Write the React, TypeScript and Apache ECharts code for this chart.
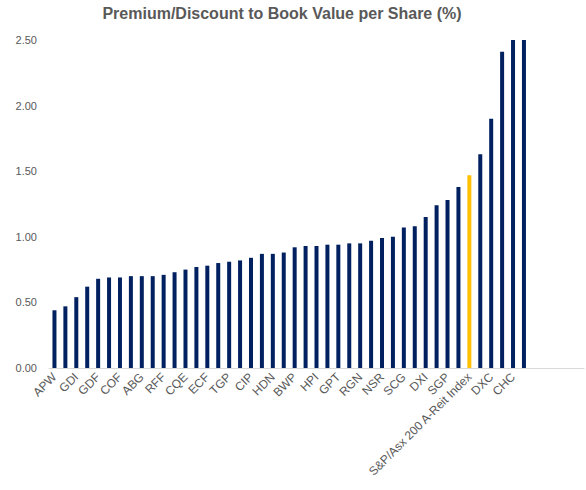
import React, { useEffect, useRef } from "react";
import * as echarts from "echarts";

const categories = [
  "APW", "A2", "GDI", "A4", "GDF", "A6", "COF", "A8", "ABG", "A10",
  "RFF", "A12", "CQE", "A14", "ECF", "A16", "TGP", "A18", "CIP", "A20",
  "HDN", "A22", "BWP", "A24", "HPI", "A26", "GPT", "A28", "RGN", "A30",
  "NSR", "A32", "SCG", "A34", "DXI", "A36", "SGP", "A38",
  "S&P/Asx 200 A-Reit Index", "A40", "DXC", "A42", "CHC", "A44",
  "", "", "", "", ""
];

const values = [
  0.44, 0.47, 0.54, 0.62, 0.68, 0.69, 0.69, 0.70, 0.70, 0.70,
  0.71, 0.73, 0.75, 0.77, 0.78, 0.80, 0.81, 0.82, 0.84, 0.87,
  0.87, 0.88, 0.92, 0.93, 0.93, 0.94, 0.94, 0.95, 0.95, 0.97,
  0.99, 1.00, 1.07, 1.08, 1.15, 1.24, 1.28, 1.38, 1.47, 1.63,
  1.90, 2.41, 2.80, 3.10, null, null, null, null, null
];

const highlightIndex = 38;
const yTicks = [0, 0.5, 1.0, 1.5, 2.0, 2.5];

export default function App() {
  const ref = useRef<HTMLDivElement>(null);
  useEffect(() => {
    if (!ref.current) return;
    const chart = echarts.init(ref.current, null, { renderer: "svg" });
    const labelText = (v: string, i: number) => (i % 2 === 0 ? v : "");
    chart.setOption({
      animation: false,
      title: {
        text: "Premium/Discount to Book Value per Share (%)",
        left: 277,
        textAlign: "center",
        top: 0,
        textStyle: {
          fontFamily: "Liberation Sans, Arial, sans-serif",
          fontSize: 16,
          fontWeight: "bold",
          color: "#595959",
        },
      },
      grid: { left: 49, right: 2, top: 40, bottom: 122, containLabel: false },
      xAxis: {
        type: "category",
        data: categories,
        axisLine: { lineStyle: { color: "#d9d9d9", width: 1 } },
        axisTick: { show: false },
        axisLabel: {
          interval: 0,
          rotate: 45,
          margin: 7,
          color: "#595959",
          fontSize: 12,
          fontFamily: "Liberation Sans, Arial, sans-serif",
          formatter: (v: string, i: number) => labelText(v, i),
        },
      },
      yAxis: {
        type: "value",
        min: yTicks[0],
        max: yTicks[yTicks.length - 1],
        interval: 0.5,
        splitLine: { show: false },
        axisLine: { show: false },
        axisTick: { show: false },
        axisLabel: {
          margin: 12,
          color: "#595959",
          fontSize: 11,
          fontFamily: "Liberation Sans, Arial, sans-serif",
          formatter: (v: number) => v.toFixed(2),
        },
      },
      series: [
        {
          type: "bar",
          clip: true,
          barWidth: 4,
          data: values.map((v, i) => ({
            value: v,
            itemStyle: { color: i === highlightIndex ? "#FFC000" : "#002060" },
          })),
        },
      ],
    });
    return () => chart.dispose();
  }, []);
  return (
    <div
      ref={ref}
      style={{ position: "absolute", left: 0, top: 0, width: 586, height: 490 }}
    />
  );
}
